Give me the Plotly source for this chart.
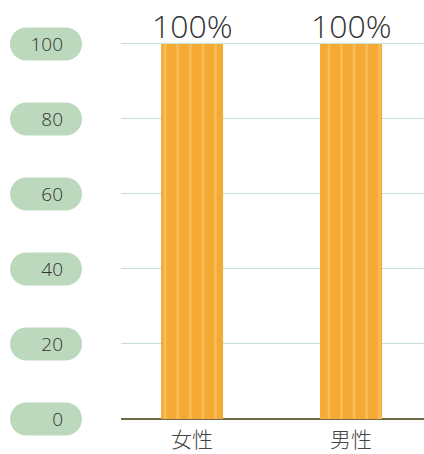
import plotly.graph_objects as go

categories = ["女性", "男性"]
values = [100, 100]
value_labels = ["100%", "100%"]
tick_vals = [0, 20, 40, 60, 80, 100]
tick_text = ["0", "20", "40", "60", "80", "100"]

W, H = 424, 454
L, T = 121, 42
PH = 377
PW = W - L
Y_RANGE = [0, 100.5]

fig = go.Figure()
fig.add_trace(go.Bar(
    x=categories, y=values,
    width=0.39,
    marker=dict(color="#f5aa36", line=dict(width=0),
                pattern=dict(shape="|", fgcolor="#fdd27c", bgcolor="#f5aa36",
                             size=12.6, solidity=0.2, fillmode="overlay")),
    hoverinfo="skip",
))

annotations = []
for c, v, t in zip(categories, values, value_labels):
    annotations.append(dict(x=c, y=v, xref="x", yref="y", text=t, showarrow=False,
                            yanchor="bottom", yshift=-5,
                            font=dict(size=32, color="#333333", family="Open Sans", weight=300)))

# rounded pill in pixel units (cubic bezier corners)
r = 16.5
hw = 19.5
k = 0.5523 * r
pill = (f"M {-hw},{-r} L {hw},{-r} "
        f"C {hw + k},{-r} {hw + r},{-k} {hw + r},0 "
        f"C {hw + r},{k} {hw + k},{r} {hw},{r} "
        f"L {-hw},{r} "
        f"C {-hw - k},{r} {-hw - r},{k} {-hw - r},0 "
        f"C {-hw - r},{-k} {-hw - k},{-r} {-hw},{-r} Z")
shapes = []
for v in tick_vals:
    shapes.append(dict(type="path", xref="paper", yref="paper", xsizemode="pixel", ysizemode="pixel",
                       xanchor=-(L - 46) / PW,
                       yanchor=(v - Y_RANGE[0]) / (Y_RANGE[1] - Y_RANGE[0]), path=pill,
                       fillcolor="#bcd9be", line=dict(width=0), layer="below"))

fig.update_layout(
    width=W, height=H,
    margin=dict(l=L, r=0, t=T, b=H - T - PH),
    paper_bgcolor="white", plot_bgcolor="white",
    showlegend=False,
    shapes=shapes,
    annotations=annotations,
    xaxis=dict(range=[-0.447, 1.459], showgrid=False, zeroline=False, showline=False,
               ticks="", ticklabelstandoff=6,
               tickfont=dict(size=21, color="#444444", family="Noto Sans CJK JP", weight=300)),
    yaxis=dict(range=Y_RANGE, tickvals=tick_vals, ticktext=tick_text,
               showgrid=True, gridcolor="#c8e0cb", gridwidth=1,
               zeroline=True, zerolinecolor="#6e6a45", zerolinewidth=2,
               showline=False, ticks="", ticklabelstandoff=57,
               tickfont=dict(size=19, color="#333333", family="Open Sans", weight=300)),
)
fig.write_html("out.html", config={"displayModeBar": False},
               post_script="document.body.style.margin='0';document.body.style.overflow='hidden';")
